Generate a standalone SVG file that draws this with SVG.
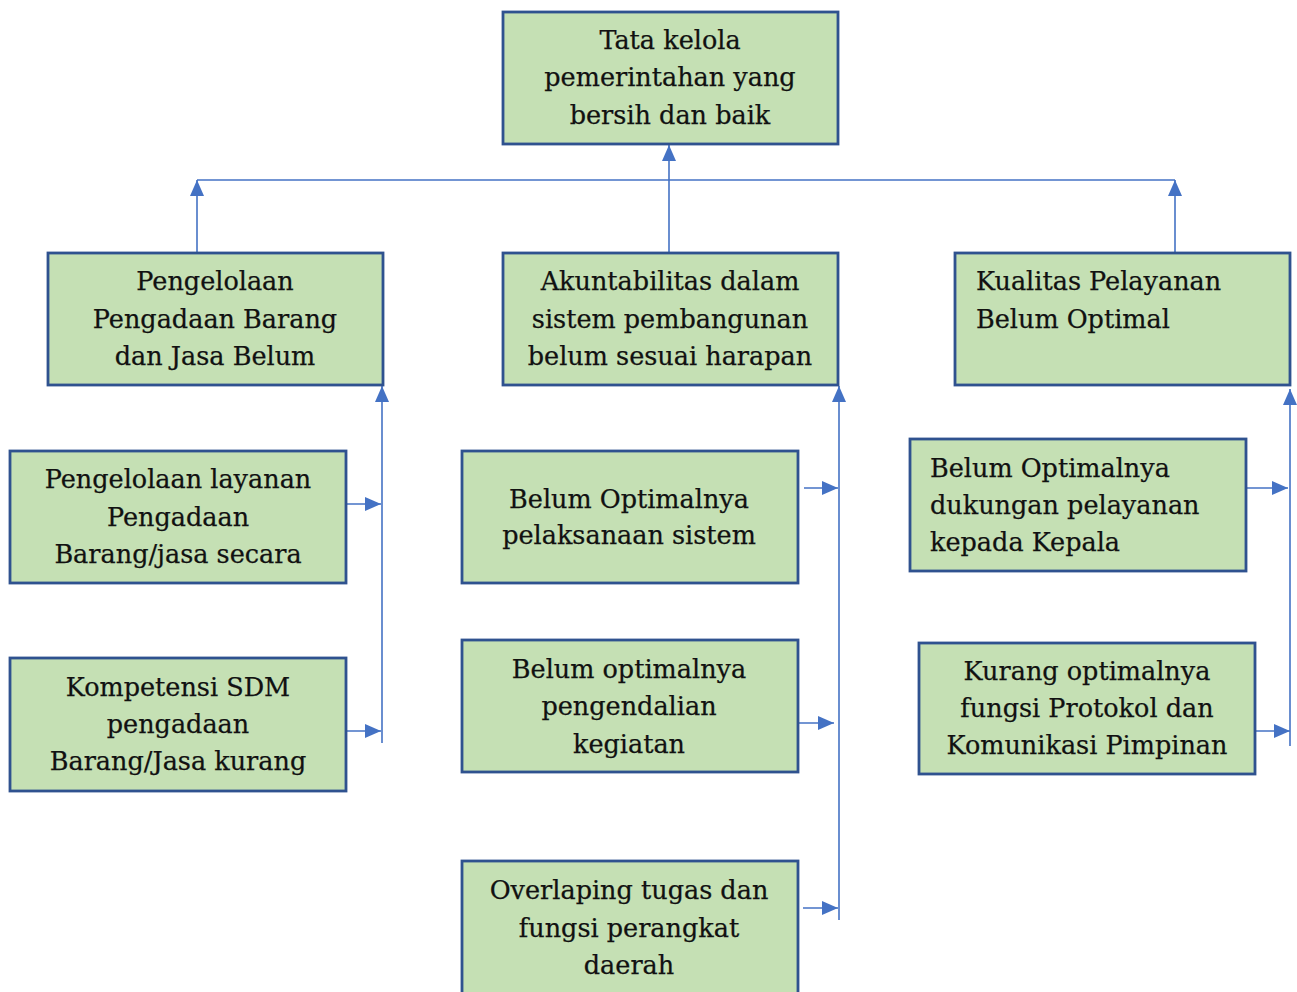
<svg xmlns="http://www.w3.org/2000/svg" width="1297" height="992" viewBox="0 0 1297 992">
<style>
.box{fill:#C5E0B4;stroke:#2F528F;stroke-width:2.8}
.t{font-family:"DejaVu Serif","Liberation Serif",serif;font-size:25.5px;fill:#111;text-anchor:middle;stroke:#111;stroke-width:0.25}
.tl{font-family:"DejaVu Serif","Liberation Serif",serif;font-size:25.5px;fill:#111;text-anchor:start;stroke:#111;stroke-width:0.25}
.c{stroke:#4472C4;stroke-width:1.6;fill:none}
</style>
<defs>
<marker id="ah" viewBox="0 0 16 14" refX="16" refY="7" markerWidth="16" markerHeight="14" markerUnits="userSpaceOnUse" orient="auto">
<path d="M0,0 L16,7 L0,14 Z" fill="#4472C4"/>
</marker>
</defs>
<rect width="1297" height="992" fill="#fff"/>
<g id="connectors">
<line class="c" x1="197" y1="180" x2="1175" y2="180"/>
<line class="c" x1="197" y1="253" x2="197" y2="180" marker-end="url(#ah)"/>
<line class="c" x1="669" y1="253" x2="669" y2="145" marker-end="url(#ah)"/>
<line class="c" x1="1175" y1="253" x2="1175" y2="180" marker-end="url(#ah)"/>
<line class="c" x1="382" y1="743" x2="382" y2="386" marker-end="url(#ah)"/>
<line class="c" x1="346" y1="504" x2="381" y2="504" marker-end="url(#ah)"/>
<line class="c" x1="346" y1="731" x2="381" y2="731" marker-end="url(#ah)"/>
<line class="c" x1="839" y1="920" x2="839" y2="386" marker-end="url(#ah)"/>
<line class="c" x1="804" y1="488" x2="838" y2="488" marker-end="url(#ah)"/>
<line class="c" x1="799" y1="723" x2="834" y2="723" marker-end="url(#ah)"/>
<line class="c" x1="803" y1="908" x2="838" y2="908" marker-end="url(#ah)"/>
<line class="c" x1="1290" y1="746" x2="1290" y2="389" marker-end="url(#ah)"/>
<line class="c" x1="1246" y1="488" x2="1288" y2="488" marker-end="url(#ah)"/>
<line class="c" x1="1255" y1="731" x2="1290" y2="731" marker-end="url(#ah)"/>
</g>
<g id="n-top">
<rect class="box" x="503" y="12" width="335" height="132"/>
<text class="t" x="670" y="49">Tata kelola</text>
<text class="t" x="670" y="86">pemerintahan yang</text>
<text class="t" x="670" y="124">bersih dan baik</text>
</g>
<g id="n-left">
<rect class="box" x="48" y="253" width="335" height="132"/>
<text class="t" x="215" y="290">Pengelolaan</text>
<text class="t" x="215" y="328">Pengadaan Barang</text>
<text class="t" x="215" y="365">dan Jasa Belum</text>
</g>
<g id="n-mid">
<rect class="box" x="503" y="253" width="335" height="132"/>
<text class="t" x="670" y="290">Akuntabilitas dalam</text>
<text class="t" x="670" y="328">sistem pembangunan</text>
<text class="t" x="670" y="365">belum sesuai harapan</text>
</g>
<g id="n-right">
<rect class="box" x="955" y="253" width="335" height="132"/>
<text class="tl" x="976" y="290">Kualitas Pelayanan</text>
<text class="tl" x="976" y="328">Belum Optimal</text>
</g>
<g id="n-l1">
<rect class="box" x="10" y="451" width="336" height="132"/>
<text class="t" x="178" y="488">Pengelolaan layanan</text>
<text class="t" x="178" y="526">Pengadaan</text>
<text class="t" x="178" y="563">Barang/jasa secara</text>
</g>
<g id="n-l2">
<rect class="box" x="10" y="658" width="336" height="133"/>
<text class="t" x="178" y="696">Kompetensi SDM</text>
<text class="t" x="178" y="733">pengadaan</text>
<text class="t" x="178" y="770">Barang/Jasa kurang</text>
</g>
<g id="n-m1">
<rect class="box" x="462" y="451" width="336" height="132"/>
<text class="t" x="629" y="508">Belum Optimalnya</text>
<text class="t" x="629" y="544">pelaksanaan sistem</text>
</g>
<g id="n-m2">
<rect class="box" x="462" y="640" width="336" height="132"/>
<text class="t" x="629" y="678">Belum optimalnya</text>
<text class="t" x="629" y="715">pengendalian</text>
<text class="t" x="629" y="753">kegiatan</text>
</g>
<g id="n-m3">
<rect class="box" x="462" y="861" width="336" height="140"/>
<text class="t" x="629" y="899">Overlaping tugas dan</text>
<text class="t" x="629" y="937">fungsi perangkat</text>
<text class="t" x="629" y="974">daerah</text>
</g>
<g id="n-r1">
<rect class="box" x="910" y="439" width="336" height="132"/>
<text class="tl" x="930" y="477">Belum Optimalnya</text>
<text class="tl" x="930" y="514">dukungan pelayanan</text>
<text class="tl" x="930" y="551">kepada Kepala</text>
</g>
<g id="n-r2">
<rect class="box" x="919" y="643" width="336" height="131"/>
<text class="t" x="1087" y="680">Kurang optimalnya</text>
<text class="t" x="1087" y="717">fungsi Protokol dan</text>
<text class="t" x="1087" y="754">Komunikasi Pimpinan</text>
</g>
</svg>
